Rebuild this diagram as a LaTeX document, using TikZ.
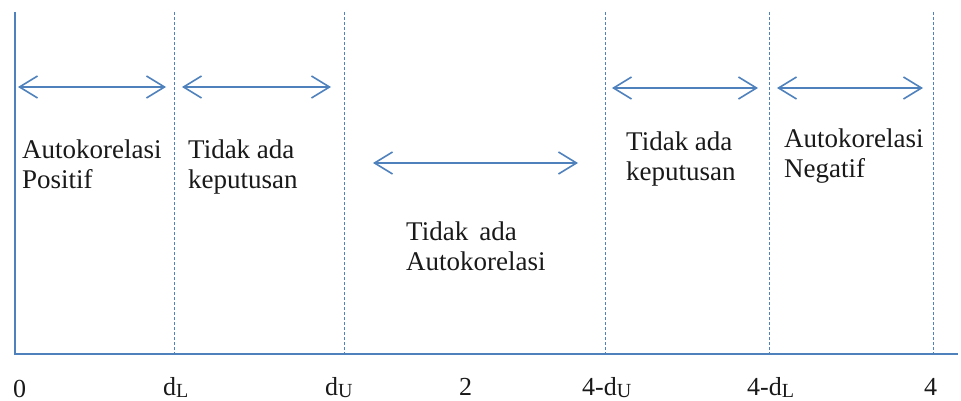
\documentclass[tikz,border=0pt]{standalone}
\usepackage{fontspec}
\setmainfont{Liberation Serif}
\usetikzlibrary{arrows.meta}
\definecolor{lineblue}{RGB}{79,129,189}
\definecolor{txt}{RGB}{25,25,25}
\newcommand{\mysub}[1]{\raisebox{-2pt}{\fontsize{20}{20}\selectfont #1}}
\tikzset{
  solidline/.style={draw=lineblue, line width=1.6pt},
  dashline/.style={draw=lineblue, line width=1pt, dash pattern=on 3pt off 2pt},
  dblarrow/.style={draw=lineblue, line width=1.6pt, {Straight Barb[length=18pt,width=22pt]}-{Straight Barb[length=18pt,width=22pt]}},
  lbl/.style={anchor=base west, inner sep=0pt, align=left, text=txt, font=\fontsize{27}{30}\selectfont},
  axlbl/.style={anchor=base west, inner sep=0pt, text=txt, font=\fontsize{26}{30}\selectfont}
}
\begin{document}
\begin{tikzpicture}[x=1pt,y=-1pt]
\useasboundingbox (0,0) rectangle (961,401);
% axis frame
\coordinate (top0) at (15,12);
\coordinate (o) at (15,354);
\coordinate (axend) at (958,354);
\draw[solidline] (top0) -- (o) -- (axend);
% dashed separators
\foreach \n/\x in {dl/174,du/344,fdu/605,fdl/769,four/933}{
  \coordinate (\n t) at (\x,12);
  \coordinate (\n b) at (\x,354);
  \draw[dashline] (\n t) -- (\n b);
}
% arrows
\coordinate (a1s) at (18,87);  \coordinate (a1e) at (166,87);
\coordinate (a2s) at (182,87); \coordinate (a2e) at (331,87);
\coordinate (a3s) at (373,163); \coordinate (a3e) at (578,163);
\coordinate (a4s) at (612,88); \coordinate (a4e) at (758,88);
\coordinate (a5s) at (777,88); \coordinate (a5e) at (923,88);
\draw[dblarrow] (a1s) -- (a1e);
\draw[dblarrow] (a2s) -- (a2e);
\draw[dblarrow] (a3s) -- (a3e);
\draw[dblarrow] (a4s) -- (a4e);
\draw[dblarrow] (a5s) -- (a5e);
% region labels (anchor = baseline of the last line)
\node[lbl] (r1) at (22,188) {Autokorelasi\\Positif};
\node[lbl] (r2) at (188,188) {Tidak ada\\keputusan};
\node[lbl] (r3) at (406,270) {Tidak \,ada\\Autokorelasi};
\node[lbl] (r4) at (626,180) {Tidak ada\\keputusan};
\node[lbl] (r5) at (784,177) {Autokorelasi\\Negatif};
% axis labels
\node[axlbl] (l0) at (13,397) {0};
\node[axlbl] (l1) at (163,395) {d\mysub{L}};
\node[axlbl] (l2) at (325,395) {d\mysub{U}};
\node[axlbl] (l3) at (459,395) {2};
\node[axlbl] (l4) at (582,395) {4-d\mysub{U}};
\node[axlbl] (l5) at (747,395) {4-d\mysub{L}};
\node[axlbl] (l6) at (924,395) {4};
\end{tikzpicture}
\end{document}
